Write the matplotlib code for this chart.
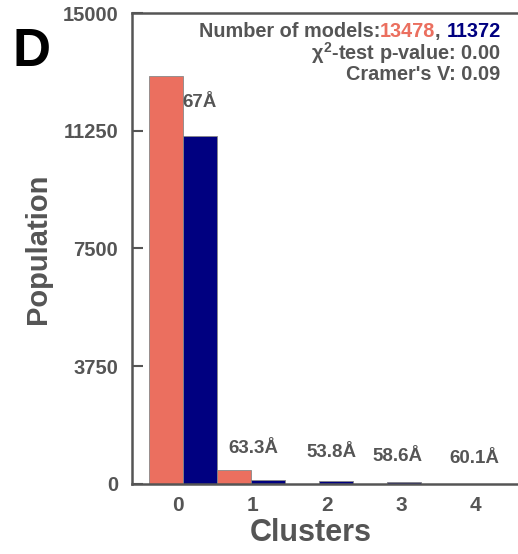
import numpy as np
import matplotlib
matplotlib.use("Agg")
import matplotlib.pyplot as plt

# cluster populations
clusters = [0, 1, 2, 3, 4]
pop_a = [12995, 455, 15, 10, 3]
pop_b = [11080, 125, 95, 70, 2]
dist_labels = ["67Å", "63.3Å", "53.8Å", "58.6Å", "60.1Å"]
n_models = [13478, 11372]
pvalue = 0.00
cramers_v = 0.09

# where the distance labels sit
label_x = [0.24, 1.03, 2.18, 3.16, 4.29]
label_y = [12150, 1115, 990, 890, 800]

red = "#EB6F5F"
navy = "#000080"
grey = "#555555"

plt.rcParams['font.family'] = ['Liberation Sans', 'DejaVu Sans']
plt.rcParams['font.weight'] = 'bold'
plt.rcParams['mathtext.fontset'] = 'custom'
plt.rcParams['mathtext.rm'] = 'Liberation Sans:bold'
plt.rcParams['mathtext.it'] = 'Liberation Sans:bold'
plt.rcParams['mathtext.bf'] = 'Liberation Sans:bold'

fig = plt.figure(figsize=(5.18, 5.54), dpi=100)
ax = fig.add_axes([0.2548, 0.1264, 0.7452, 0.8501])

x = np.array(clusters)
w = 0.5
ax.bar(x - w / 2, pop_a, width=w, color=red, edgecolor="#888888", linewidth=0.6)
ax.bar(x + w / 2, pop_b, width=w, color=navy, edgecolor="#888888", linewidth=0.6)

for lx, ly, s in zip(label_x, label_y, dist_labels):
    ax.text(lx, ly, s, ha='center', va='center', fontsize=13.5, color=grey, fontweight='bold')

ax.set_xlim(-0.75, 4.93)
ax.set_ylim(0, 15000)
ax.set_yticks([0, 3750, 7500, 11250, 15000])
# tick labels in the original are spread a bit wider than the bars
ax.set_xticks(np.arange(5) * 1.095 - 0.07)
ax.set_xticklabels([str(c) for c in clusters])

ax.tick_params(axis='x', length=0, pad=9, labelsize=15, labelcolor=grey)
ax.tick_params(axis='y', direction='in', length=8, width=1.5, color=grey,
               pad=10, labelsize=14.5, labelcolor=grey)
for sp in ['left', 'top', 'bottom']:
    ax.spines[sp].set_color(grey)
    ax.spines[sp].set_linewidth(1.8)
ax.spines['right'].set_visible(False)

ax.set_xlabel("Clusters", fontsize=22, color=grey, fontweight='bold')
ax.xaxis.set_label_coords(0.464, -0.072)
ax.set_ylabel("Population", fontsize=21, color=grey, fontweight='bold')
ax.yaxis.set_label_coords(-0.207, 0.5)

# coloured model count line, built from right to left
fs = 14.3
t3 = ax.text(0.955, 0.94, str(n_models[1]), transform=ax.transAxes, ha='right',
             va='bottom', fontsize=fs, color=navy, fontweight='bold')
t2 = ax.annotate(", ", xy=(0, 0), xycoords=t3, ha='right', va='bottom',
                 fontsize=fs, color=grey, fontweight='bold')
t1 = ax.annotate(str(n_models[0]), xy=(0, 0), xycoords=t2, ha='right', va='bottom',
                 fontsize=fs, color=red, fontweight='bold')
ax.annotate("Number of models:", xy=(0, 0), xycoords=t1, ha='right', va='bottom',
            fontsize=fs, color=grey, fontweight='bold')
ax.text(0.955, 0.942, r"$\chi^{2}$-test p-value: %.2f" % pvalue, transform=ax.transAxes,
        ha='right', va='top', fontsize=fs, color=grey, fontweight='bold')
ax.text(0.955, 0.89, "Cramer's V: %.2f" % cramers_v, transform=ax.transAxes,
        ha='right', va='top', fontsize=fs, color=grey, fontweight='bold')

fig.text(0.025, 0.907, "D", fontsize=38, fontweight='bold', color='black', va='center')

fig.savefig("out.png", dpi=100)
